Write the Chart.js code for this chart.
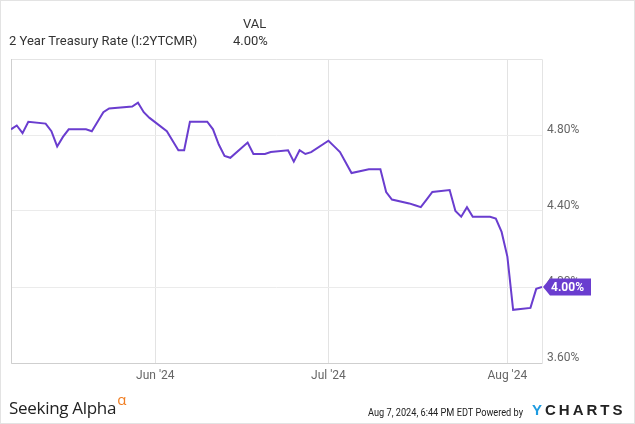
<!DOCTYPE html>
<html>
<head>
    <script src="https://cdn.jsdelivr.net/npm/chart.js"></script>
    <style>
        html, body {
            margin: 0;
            padding: 0;
            background: #fff;
        }
        .frame {
            position: relative;
            width: 635px;
            height: 424px;
            box-sizing: border-box;
            border: 1px solid #e3e3e3;
            overflow: hidden;
            font-family: Roboto, sans-serif;
        }
        #chart {
            position: absolute;
            left: 0;
            top: 0;
        }
        .txt {
            position: absolute;
            white-space: nowrap;
            color: #333;
        }
        .head {
            font-size: 13px;
        }
        .sa {
            font-family: "Open Sans", sans-serif;
            font-size: 17px;
            color: #222;
            letter-spacing: -0.3px;
        }
        .sa span {
            color: #f07d21;
            font-size: 15px;
            position: relative;
            top: -9px;
            margin-left: 1px;
        }
        .stamp {
            font-family: Roboto, sans-serif;
            font-size: 11.5px;
            color: #222;
            transform: scaleX(0.8);
            transform-origin: left top;
        }
        .yc {
            font-family: "Liberation Sans", sans-serif;
            font-weight: bold;
            font-size: 15px;
            letter-spacing: 3px;
            color: #222;
        }
        .yc span {
            color: #1e9be0;
        }
    </style>
</head>
<body>
<div class="frame">
    <canvas id="chart" width="635" height="424"></canvas>
    <div class="txt head" style="left:242px; top:15px;">VAL</div>
    <div class="txt head" style="left:8px; top:32px;">2 Year Treasury Rate (I:2YTCMR)</div>
    <div class="txt head" style="left:232px; top:32px;">4.00%</div>
    <div class="txt sa" style="left:8px; top:395px;">Seeking Alpha<span>α</span></div>
    <div class="txt stamp" style="left:367px; top:404px;">Aug 7, 2024, 6:44 PM EDT Powered by</div>
    <div class="txt yc" style="left:531px; top:400px;"><span>Y</span>CHARTS</div>
</div>

<script>
    // 2 Year Treasury Rate, daily (trading days)
    let dates = [
        '2024-05-07', '2024-05-08', '2024-05-09', '2024-05-10', '2024-05-13', '2024-05-14',
        '2024-05-15', '2024-05-16', '2024-05-17', '2024-05-20', '2024-05-21', '2024-05-22',
        '2024-05-23', '2024-05-24', '2024-05-28', '2024-05-29', '2024-05-30', '2024-05-31',
        '2024-06-03', '2024-06-04', '2024-06-05', '2024-06-06', '2024-06-07', '2024-06-10',
        '2024-06-11', '2024-06-12', '2024-06-13', '2024-06-14', '2024-06-17', '2024-06-18',
        '2024-06-20', '2024-06-21', '2024-06-24', '2024-06-25', '2024-06-26', '2024-06-27',
        '2024-06-28', '2024-07-01', '2024-07-02', '2024-07-03', '2024-07-05', '2024-07-08',
        '2024-07-09', '2024-07-10', '2024-07-11', '2024-07-12', '2024-07-15', '2024-07-16',
        '2024-07-17', '2024-07-18', '2024-07-19', '2024-07-22', '2024-07-23', '2024-07-24',
        '2024-07-25', '2024-07-26', '2024-07-29', '2024-07-30', '2024-07-31', '2024-08-01',
        '2024-08-02', '2024-08-05', '2024-08-06', '2024-08-07'
    ];
    let rates = [
        4.83, 4.85, 4.81, 4.87, 4.86, 4.82,
        4.74, 4.79, 4.83, 4.83, 4.82, 4.87,
        4.92, 4.94, 4.95, 4.97, 4.92, 4.89,
        4.82, 4.77, 4.72, 4.72, 4.87, 4.87,
        4.83, 4.75, 4.69, 4.68, 4.76, 4.70,
        4.70, 4.71, 4.72, 4.66, 4.72, 4.70,
        4.71, 4.77, 4.74, 4.71, 4.60, 4.62,
        4.62, 4.62, 4.50, 4.46, 4.44, 4.43,
        4.42, 4.46, 4.50, 4.51, 4.40, 4.37,
        4.42, 4.37, 4.37, 4.36, 4.29, 4.16,
        3.88, 3.89, 3.99, 4.00
    ];
    let monthTicks = ['2024-06-01', '2024-07-01', '2024-08-01'];
    let monthLabels = ["Jun '24", "Jul '24", "Aug '24"];
    let xStart = '2024-05-07';
    let xEnd = '2024-08-07';
    let yTicks = [3.6, 4.0, 4.4, 4.8, 5.2];

    let purple = '#6a3dcf';

    // days since Jun 1 2024
    function dayNum(s) {
        let p = s.split('-');
        return (Date.UTC(+p[0], +p[1] - 1, +p[2]) - Date.UTC(2024, 5, 1)) / 86400000;
    }

    let points = dates.map((d, i) => ({ x: dayNum(d), y: rates[i] }));
    let tickDays = monthTicks.map(dayNum);

    let framePlugin = {
        id: 'frame',
        beforeDatasetsDraw(chart) {
            let a = chart.chartArea;
            let c = chart.ctx;
            c.save();
            c.lineWidth = 1;
            c.strokeStyle = '#e4e4e4';
            c.beginPath();
            c.moveTo(a.left, a.top + 0.5);
            c.lineTo(a.right + 0.5, a.top + 0.5);
            c.lineTo(a.right + 0.5, a.bottom);
            c.stroke();
            c.strokeStyle = '#cfcfcf';
            c.beginPath();
            c.moveTo(a.left + 0.5, a.top);
            c.lineTo(a.left + 0.5, a.bottom + 0.5);
            c.lineTo(a.right + 0.5, a.bottom + 0.5);
            c.stroke();
            c.restore();
        }
    };

    let lastLabel = {
        id: 'lastLabel',
        afterDraw(chart) {
            let last = points[points.length - 1];
            let x = chart.scales.x.getPixelForValue(last.x);
            let y = chart.scales.y.getPixelForValue(last.y);
            let c = chart.ctx;
            let h = 17;
            c.save();
            c.fillStyle = purple;
            c.beginPath();
            c.moveTo(x + 1, y);
            c.lineTo(x + 8, y - h / 2);
            c.lineTo(x + 49, y - h / 2);
            c.lineTo(x + 49, y + h / 2);
            c.lineTo(x + 8, y + h / 2);
            c.closePath();
            c.fill();
            c.fillStyle = '#fff';
            c.font = 'bold 12px Roboto';
            c.textBaseline = 'middle';
            c.fillText(last.y.toFixed(2) + '%', x + 9, y + 1);
            c.restore();
        }
    };

    let ctx = document.getElementById('chart').getContext('2d');
    let chart = new Chart(ctx, {
        type: 'line',
        data: {
            datasets: [{
                data: points,
                borderColor: purple,
                borderWidth: 2,
                pointRadius: 0,
                tension: 0,
                fill: false
            }]
        },
        options: {
            responsive: false,
            animation: false,
            layout: { padding: { left: 10, top: 58 } },
            plugins: {
                legend: { display: false },
                tooltip: { enabled: false }
            },
            scales: {
                x: {
                    type: 'linear',
                    min: dayNum(xStart),
                    max: dayNum(xEnd),
                    afterBuildTicks(scale) {
                        scale.ticks = tickDays.map(v => ({ value: v }));
                    },
                    afterFit(scale) {
                        scale.height = 62;
                    },
                    border: { display: false },
                    grid: { color: '#e3e3e3', drawTicks: false },
                    ticks: {
                        padding: 6,
                        color: '#666',
                        font: { family: 'Roboto', size: 12 },
                        maxRotation: 0,
                        callback: v => monthLabels[tickDays.indexOf(v)] || ''
                    }
                },
                y: {
                    position: 'right',
                    min: yTicks[0],
                    max: yTicks[yTicks.length - 1],
                    afterBuildTicks(scale) {
                        scale.ticks = yTicks.map(v => ({ value: v }));
                    },
                    afterFit(scale) {
                        scale.width = 94;
                    },
                    border: { display: false },
                    grid: { color: '#ebebeb', drawTicks: false },
                    ticks: {
                        padding: 5,
                        labelOffset: -5,
                        color: '#666',
                        font: { family: 'Roboto', size: 12 },
                        callback: v => v >= 5.1 ? '' : v.toFixed(2) + '%'
                    }
                }
            }
        },
        plugins: [framePlugin, lastLabel]
    });
</script>
</body>
</html>
